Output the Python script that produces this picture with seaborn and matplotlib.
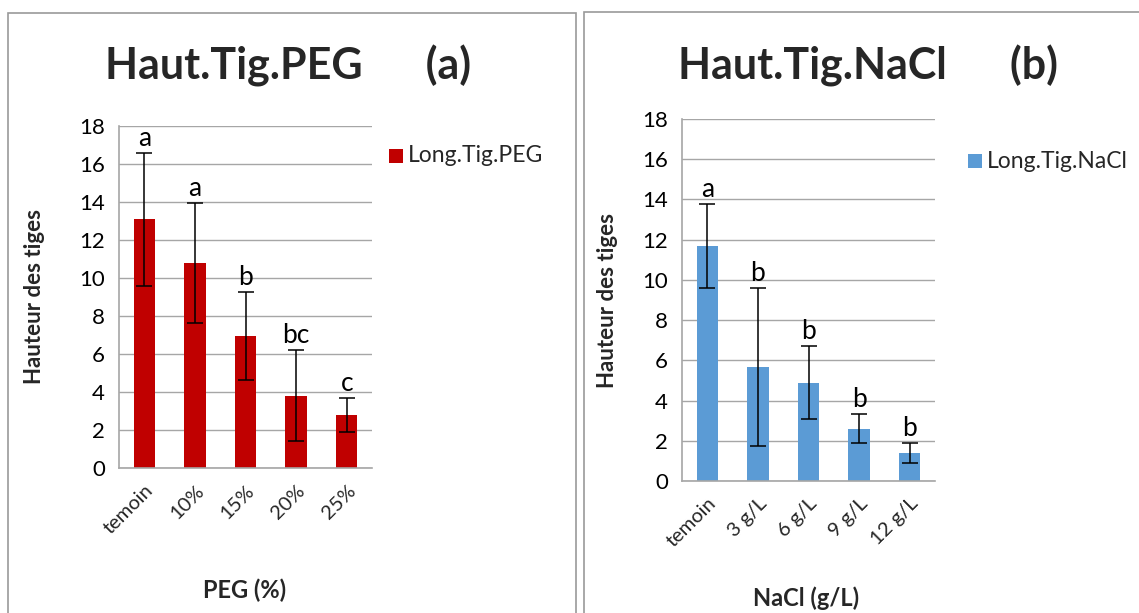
import matplotlib
matplotlib.use("Agg")
import matplotlib.pyplot as plt
import seaborn as sns
import pandas as pd
from matplotlib.patches import Rectangle

sns.set_theme(style="white")
plt.rcParams['font.family'] = ['Lato', 'DejaVu Sans']

# ---- data ----
peg_cats = ["temoin", "10%", "15%", "20%", "25%"]
peg_means = [13.1, 10.8, 6.95, 3.8, 2.8]
peg_err = [3.5, 3.15, 2.3, 2.4, 0.88]
peg_letters = ["a", "a", "b", "bc", "c"]

nacl_cats = ["temoin", "3 g/L", "6 g/L", "9 g/L", "12 g/L"]
nacl_means = [11.7, 5.66, 4.88, 2.6, 1.38]
nacl_err = [2.08, 3.92, 1.81, 0.73, 0.5]
nacl_letters = ["a", "b", "b", "b", "b"]

W, H = 1139, 613
fig = plt.figure(figsize=(W / 100, H / 100), dpi=100)

def fx(px):
    return px / W

def fy(py):
    return 1 - py / H

# panel frames
fig.patches.append(Rectangle((fx(8), fy(640)), fx(568), (640 - 13) / H,
                             transform=fig.transFigure, fill=False,
                             edgecolor="#9a9a9a", linewidth=1.2))
fig.patches.append(Rectangle((fx(584), fy(640)), fx(600), (640 - 12) / H,
                             transform=fig.transFigure, fill=False,
                             edgecolor="#9a9a9a", linewidth=1.2))

grid_col = "#a6a6a6"


def panel(rect, cats, means, errs, letters, color, title, xlabel, legend_label,
          ylabel_x, xlabel_pos, legend_pos, title_pos):
    x0, y0, x1, y1 = rect
    ax = fig.add_axes([fx(x0), fy(y1), fx(x1 - x0), (y1 - y0) / H])
    df = pd.DataFrame({"cat": cats, "val": means})
    sns.barplot(data=df, x="cat", y="val", color=color, width=0.42,
                saturation=1, errorbar=None, ax=ax, edgecolor="none")
    xs = list(range(len(cats)))
    ax.errorbar(xs, means, yerr=errs, fmt="none", ecolor="black",
                elinewidth=1.1, capsize=6, capthick=1.1, zorder=4)
    for x, m, e, l in zip(xs, means, errs, letters):
        ax.text(x, m + e + 0.1, l, ha="center", va="bottom", fontsize=19,
                color="black")
    ax.set_ylim(0, 18)
    ax.set_yticks(range(0, 19, 2))
    ax.set_xlim(-0.5, len(cats) - 0.5)
    ax.yaxis.grid(True, color=grid_col, linewidth=1)
    ax.set_axisbelow(True)
    for s in ["top", "right"]:
        ax.spines[s].set_visible(False)
    for s in ["left", "bottom"]:
        ax.spines[s].set_color(grid_col)
        ax.spines[s].set_linewidth(1.2)
    ax.tick_params(axis="y", length=6, width=1, color=grid_col,
                   direction="out", labelsize=16, pad=4, labelcolor="black")
    ax.set_xticks(xs)
    ax.set_xticklabels(cats, rotation=45, ha="right", rotation_mode="anchor",
                       fontsize=14.5)
    ax.set_xticks([i - 0.5 for i in range(len(cats) + 1)], minor=True)
    ax.tick_params(axis="x", which="major", length=0, pad=10)
    ax.tick_params(axis="x", which="minor", length=6, color=grid_col,
                   width=1.2, direction="out")
    ax.set_xlabel("")
    ax.set_ylabel("")
    fig.text(fx(ylabel_x), fy((y0 + y1) / 2), "Hauteur des tiges", rotation=90,
             ha="center", va="center", fontsize=16, fontweight="bold")
    fig.text(fx(xlabel_pos[0]), fy(xlabel_pos[1]), xlabel, ha="center",
             va="center", fontsize=17, fontweight="bold")
    fig.text(fx(title_pos[0]), fy(title_pos[1]), title, ha="center",
             va="center", fontsize=31, fontweight="bold")
    # legend
    lx, ly = legend_pos
    fig.patches.append(Rectangle((fx(lx), fy(ly + 7)), fx(14), 14 / H,
                                 transform=fig.transFigure, facecolor=color,
                                 edgecolor="none"))
    fig.text(fx(lx + 19), fy(ly), legend_label, ha="left", va="center",
             fontsize=16.5)
    return ax


panel((119, 126, 372, 468), peg_cats, peg_means, peg_err, peg_letters,
      "#c00000", "Haut.Tig.PEG      (a)", "PEG (%)", "Long.Tig.PEG",
      35, (245, 590), (389, 156), (288, 66))
panel((682, 119, 935, 481), nacl_cats, nacl_means, nacl_err, nacl_letters,
      "#5b9bd5", "Haut.Tig.NaCl      (b)", "NaCl (g/L)", "Long.Tig.NaCl",
      607, (806, 598), (968, 161), (868, 66))

fig.savefig("out.png", dpi=100)
